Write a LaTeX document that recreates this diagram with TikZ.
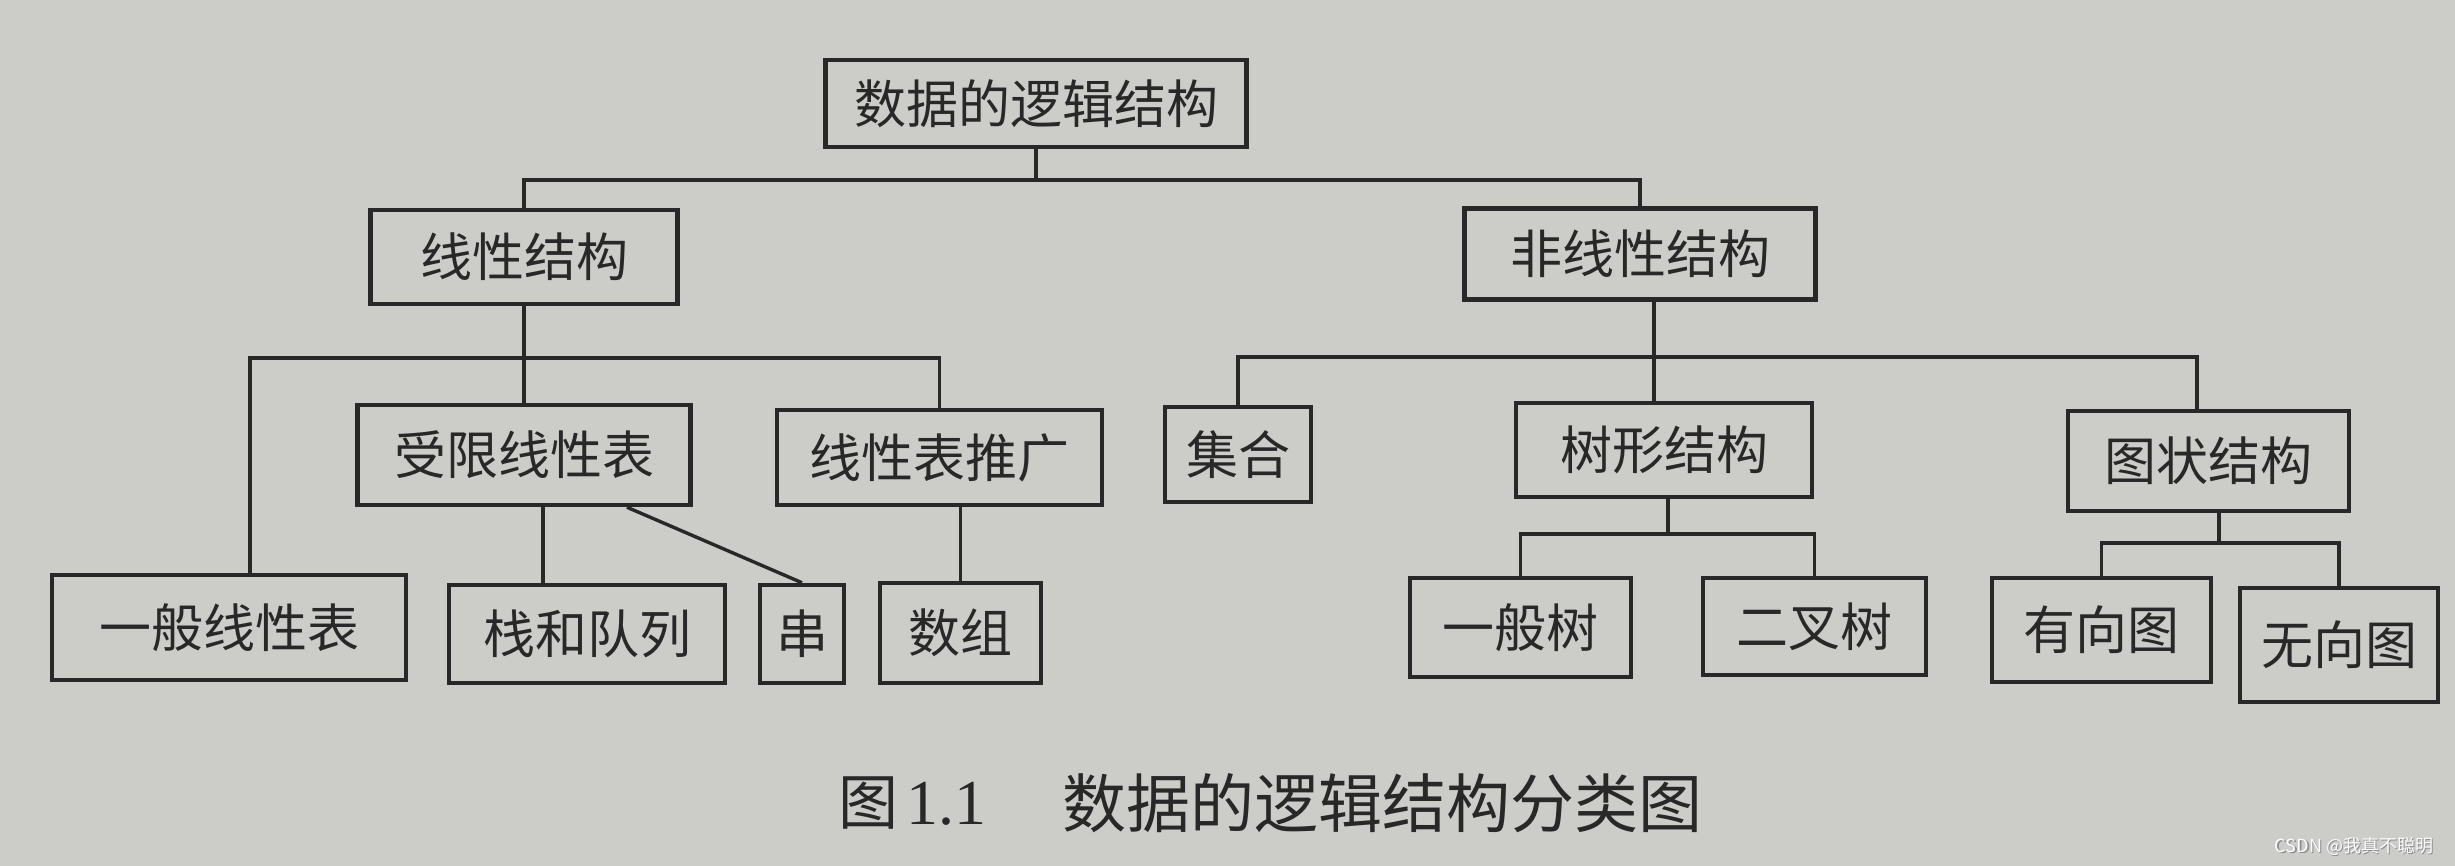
\documentclass[tikz,border=0pt]{standalone}
\usepackage{fontspec}
\setmainfont{Liberation Serif}
\newfontfamily\cjk{Noto Sans CJK SC}
\definecolor{bgc}{RGB}{204,204,200}
\definecolor{ink}{RGB}{40,40,40}
\begin{document}
\begin{tikzpicture}[x=1pt,y=-1pt,
  box/.style={draw=ink, line width=4.5pt, inner sep=0pt, text=ink,
    font=\cjk\fontsize{52}{60}\selectfont},
  link/.style={draw=ink, line width=3.4pt}]
\fill[bgc] (0,0) rectangle (2455,866);
\useasboundingbox (0,0) rectangle (2455,866);
% level 0
\node[box, minimum width=421, minimum height=87] (root) at (1036,103.5) {数据的逻辑结构};
% level 1
\node[box, minimum width=307, minimum height=94] (lin) at (524,257) {线性结构};
\node[box, minimum width=351, minimum height=91] (nonlin) at (1640,254) {非线性结构};
% level 2
\node[box, minimum width=333, minimum height=100] (rest) at (524,455) {受限线性表};
\node[box, minimum width=325, minimum height=95] (gen) at (939.5,457.5) {线性表推广};
\node[box, minimum width=146, minimum height=95] (set) at (1238,454.5) {集合};
\node[box, minimum width=296, minimum height=94] (tree) at (1664,450) {树形结构};
\node[box, minimum width=281, minimum height=100] (graph) at (2208.5,461) {图状结构};
% level 3
\node[box, minimum width=354, minimum height=105] (gl) at (229,627.5) {一般线性表};
\node[box, minimum width=276, minimum height=98] (sq) at (587,634) {栈和队列};
\node[box, minimum width=84, minimum height=98] (str) at (802,634) {串};
\node[box, minimum width=161, minimum height=100] (arr) at (960.5,633) {数组};
\node[box, minimum width=221, minimum height=99] (gt) at (1520.5,627.5) {一般树};
\node[box, minimum width=223, minimum height=97] (bt) at (1814.5,626.5) {二叉树};
\node[box, minimum width=219, minimum height=104] (dg) at (2101.5,630) {有向图};
\node[box, minimum width=198, minimum height=114] (ug) at (2339,645) {无向图};
% connectors
\coordinate (j1) at (1036,180);
\draw[link] (root.south) -- (j1);
\draw[link] (lin.north) |- (j1) -| (nonlin.north);
\coordinate (j2) at (524,358);
\coordinate (c1) at (250,358);
\draw[link] (lin.south) -- (j2);
\draw[link] (j2) -- (rest.north);
\draw[link] (c1 |- gl.north) -- (c1) -- (j2) -| (gen.north);
\coordinate (c2) at (543,0);
\draw[link] (c2 |- rest.south) -- (c2 |- sq.north);
\draw[link] ([xshift=103pt]rest.south) -- (str.north);
\draw[link] (arr.north |- gen.south) -- (arr.north);
\coordinate (c3) at (1654,357);
\coordinate (c4) at (2197,357);
\draw[link] (c3 |- nonlin.south) -- (c3 |- tree.north);
\draw[link] (set.north) |- (c4) -- (c4 |- graph.north);
\coordinate (j4) at (1668,534);
\draw[link] (j4 |- tree.south) -- (j4);
\draw[link] (gt.north) |- (j4) -| (bt.north);
\coordinate (j5) at (2219,543);
\draw[link] (j5 |- graph.south) -- (j5);
\draw[link] (dg.north) |- (j5) -| (ug.north);
% caption
\node[anchor=west, inner sep=0pt, text=ink] (capnum) at (838,803)
  {{\cjk\fontsize{60}{66}\selectfont 图}\hspace{8pt}{\fontsize{64}{66}\selectfont 1.1}};
\node[anchor=west, inner sep=0pt, text=ink, font=\cjk\fontsize{64}{70}\selectfont] (cap) at (1062,803)
  {数据的逻辑结构分类图};
% watermark
\node[text=black!45, font=\cjk\fontsize{18}{20}\selectfont] (wmsh) at (2355.5,847.5) {CSDN @我真不聪明};
\node[text=white!95!bgc, font=\cjk\fontsize{18}{20}\selectfont] (wm) at (2354,846) {CSDN @我真不聪明};
\end{tikzpicture}
\end{document}
